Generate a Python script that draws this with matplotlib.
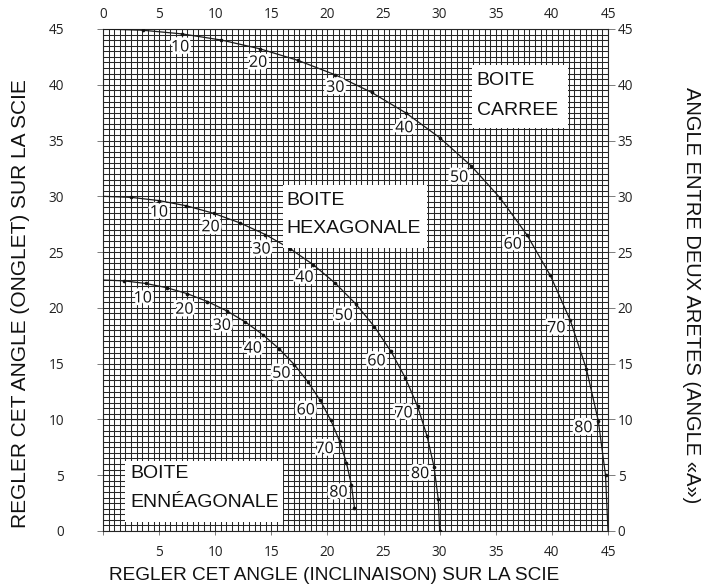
import numpy as np
import matplotlib
matplotlib.use("Agg")
import matplotlib.pyplot as plt
from matplotlib.patches import Rectangle
import matplotlib.patheffects as pe

# ---- data ----
inclinaison_angles = [0, 5, 10, 15, 20, 25, 30, 35, 40, 45, 50, 55, 60, 65, 70, 75, 80, 85, 90]

carree_incl = [0, 3.53, 7.05, 10.55, 14.00, 17.39, 20.70, 23.93, 27.03, 30.00,
               32.80, 35.40, 37.76, 39.86, 41.64, 43.08, 44.14, 44.78, 45.00]
carree_onglet = [45, 44.89, 44.56, 44.01, 43.22, 42.18, 40.89, 39.32, 37.45, 35.26,
                 32.74, 29.84, 26.57, 22.91, 18.88, 14.51, 9.85, 4.98, 0]

hexa_incl = [0, 2.50, 4.98, 7.44, 9.85, 12.20, 14.48, 16.67, 18.75, 20.70,
             22.52, 24.18, 25.66, 26.95, 28.03, 28.88, 29.50, 29.87, 30.00]
hexa_onglet = [30, 29.91, 29.62, 29.15, 28.48, 27.62, 26.57, 25.31, 23.86, 22.21,
               20.36, 18.32, 16.10, 13.71, 11.17, 8.50, 5.73, 2.88, 0]

ennea_incl = [0, 1.91, 3.81, 5.68, 7.52, 9.31, 11.03, 12.68, 14.24, 15.70,
              17.05, 18.27, 19.36, 20.30, 21.08, 21.69, 22.14, 22.41]
ennea_onglet = [22.5, 22.42, 22.19, 21.81, 21.27, 20.57, 19.73, 18.74, 17.60, 16.33,
                14.91, 13.36, 11.70, 9.93, 8.06, 6.12, 4.11, 2.07]

label_angles = [10, 20, 30, 40, 50, 60, 70, 80]
major_ticks = [0, 5, 10, 15, 20, 25, 30, 35, 40, 45]

# ---- figure ----
W, H = 701, 584
fig = plt.figure(figsize=(W / 100, H / 100), dpi=100)
ax = fig.add_axes([103 / W, 53 / H, 505 / W, 502 / H])
ax.set_xlim(0, 45)
ax.set_ylim(0, 45)

gridc = "#262626"
ax.set_xticks(np.arange(0, 45.01, 0.5), minor=True)
ax.set_yticks(np.arange(0, 45.01, 0.5), minor=True)
ax.set_xticks(major_ticks)
ax.set_yticks(major_ticks)
ax.grid(which="both", color=gridc, linewidth=0.75, zorder=0)
ax.set_axisbelow(True)
ax.tick_params(which="minor", length=0)
for s in ax.spines.values():
    s.set_color(gridc)
    s.set_linewidth(0.8)

tickfont = dict(family=["Open Sans", "DejaVu Sans"], size=9.8)
# bottom: no 0 label
ax.set_xticklabels(["" if v == 0 else str(v) for v in major_ticks], fontdict=tickfont)
ax.set_yticklabels([str(v) for v in major_ticks], fontdict=tickfont)
ax.tick_params(axis="x", which="major", direction="out", length=3, width=0.6,
               color="#666", pad=7, labelcolor="#222")
ax.tick_params(axis="y", which="major", direction="out", length=4, width=0.6,
               color="#666", pad=24, labelcolor="#222")

top = ax.secondary_xaxis("top")
top.set_xticks(major_ticks)
top.set_xticklabels([str(v) for v in major_ticks], fontdict=tickfont)
top.tick_params(length=0, pad=5, labelcolor="#222")
top.spines["top"].set_visible(False)

right = ax.secondary_yaxis("right")
right.set_yticks(major_ticks)
right.set_yticklabels([str(v) for v in major_ticks], fontdict=tickfont)
right.tick_params(length=5, width=0.6, color="#666", pad=2, labelcolor="#222")
right.spines["right"].set_visible(False)

# ---- curves ----
curve_kw = dict(color="#1a1a1a", linewidth=0.9, zorder=3)
dot_kw = dict(color="#111", s=7, zorder=4, linewidths=0)

ax.plot(carree_incl, carree_onglet, **curve_kw)
ax.scatter(carree_incl[1:18], carree_onglet[1:18], **dot_kw)

ax.plot(hexa_incl, hexa_onglet, **curve_kw)
ax.scatter(hexa_incl[1:19], hexa_onglet[1:19], **dot_kw)

ax.plot(ennea_incl, ennea_onglet, **curve_kw)
ax.scatter(ennea_incl[1:18], ennea_onglet[1:18], **dot_kw)

# ---- number labels (offsets in pixels, +y is up) ----
halo = [pe.withStroke(linewidth=4, foreground="white")]
numfont = dict(family=["Open Sans", "DejaVu Sans"], size=11.5, color="#111")

offsets = {
    "carree": [(-2, -13.5), (-2, -14), (0, -13), (-2, -15), (-12, -12), (-14, -10), (-14, -8), (-15, -7)],
    "hexa": [(0, -12), (-3, -14), (-4, -15), (-9, -13), (-12, -12), (-14.5, -10), (-14, -7), (-14, -7)],
    "ennea": [(-3, -15), (-3, -16), (-5, -15), (-10, -14), (-13, -9), (-14.5, -10), (-15, -8), (-13, -7.5)],
}
series = {"carree": (carree_incl, carree_onglet),
          "hexa": (hexa_incl, hexa_onglet),
          "ennea": (ennea_incl, ennea_onglet)}
for name, (xs, ys) in series.items():
    for (dx, dy), a in zip(offsets[name], label_angles):
        i = inclinaison_angles.index(a)
        ax.annotate(str(a), xy=(xs[i], ys[i]), xytext=(dx, dy), textcoords="offset pixels",
                    ha="center", va="center", zorder=7, path_effects=halo, **numfont)

# ---- white boxes with titles ----
boxfont = dict(family=["Liberation Sans", "DejaVu Sans"], size=14, color="#111")
boxes = [
    ((32.9, 36.1), 8.5, 5.7, 33.3, 39.96, 37.28, "BOITE", "CARREE"),
    ((16.0, 25.4), 12.9, 5.6, 16.3, 29.2, 26.7, "BOITE", "HEXAGONALE"),
    ((2.0, 0.8), 14.0, 5.5, 2.4, 4.72, 2.18, "BOITE", "ENNÉAGONALE"),
]
for (x0, y0), w, h, tx, y1, y2, l1, l2 in boxes:
    ax.add_patch(Rectangle((x0, y0), w, h, facecolor="white", edgecolor="none", zorder=5))
    ax.text(tx, y1, l1, ha="left", va="baseline", zorder=6, **boxfont)
    ax.text(tx, y2, l2, ha="left", va="baseline", zorder=6, **boxfont)

# ---- axis titles ----
labfont = dict(family=["Liberation Sans", "DejaVu Sans"], color="#111")
fig.text(21 / W, 1 - 304 / H, "REGLER CET ANGLE (ONGLET) SUR LA SCIE",
         rotation=90, ha="center", va="center", size=15, **labfont)
fig.text(691 / W, 1 - 295 / H, "ANGLE ENTRE DEUX ARETES (ANGLE «A»)",
         rotation=270, ha="center", va="center", size=14.5, **labfont)
fig.text(334 / W, 1 - 576 / H, "REGLER CET ANGLE (INCLINAISON) SUR LA SCIE",
         ha="center", va="center", size=13.7, **labfont)

fig.savefig("out.png", dpi=100)
